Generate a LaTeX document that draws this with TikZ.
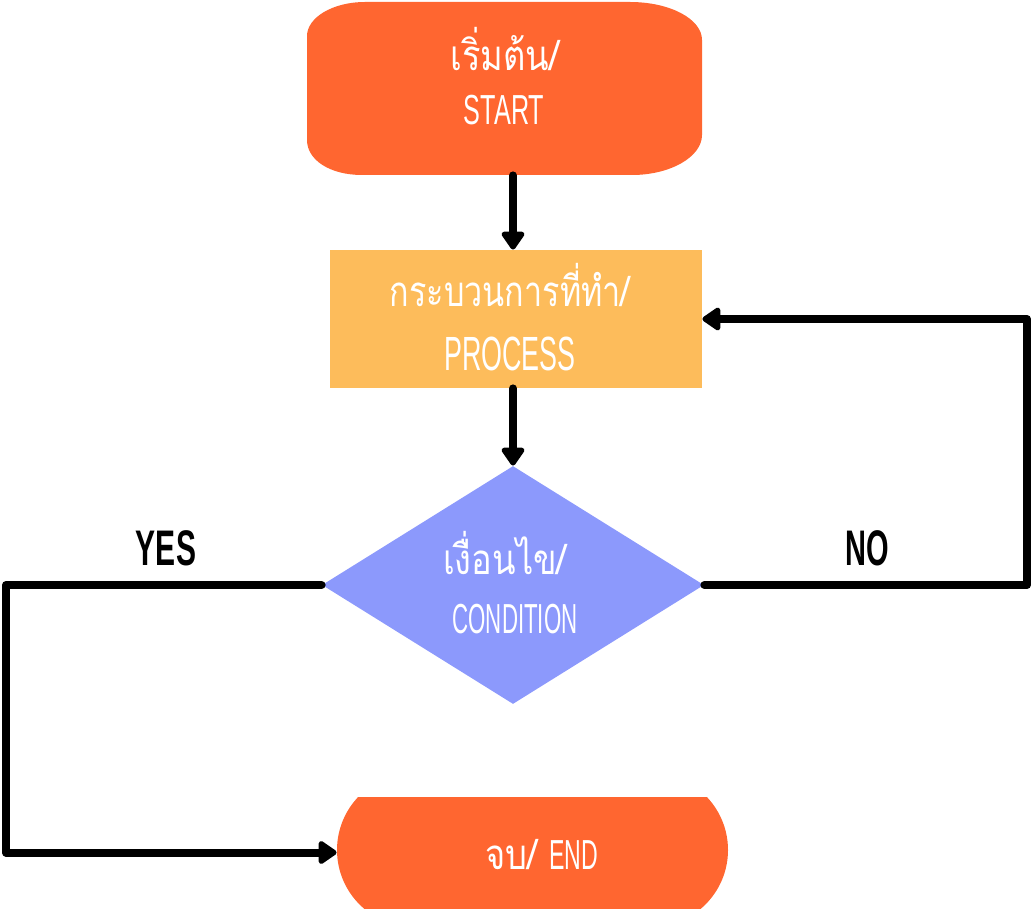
\documentclass[tikz,border=0pt]{standalone}
\usepackage{fontspec}
\usetikzlibrary{shapes.geometric,arrows.meta}
\newfontfamily\thai[Script=Thai]{Loma}
\newfontfamily\lat{Liberation Sans}
\newcommand\cnd[2]{\scalebox{#1}[1]{#2}}
\definecolor{orangeA}{HTML}{FF6630}
\definecolor{procC}{HTML}{FDBC5B}
\definecolor{condC}{HTML}{8C99FC}
\tikzset{
  lbl/.style={text=white, inner sep=0pt, anchor=base},
  arr/.style={line width=4pt, line cap=round, line join=round, -{Triangle[length=10pt,width=13pt,round]}},
  yn/.style={text=black, inner sep=0pt, anchor=base, font=\lat\bfseries\fontsize{25}{28}\selectfont}
}
\begin{document}
\begin{tikzpicture}[x=0.5pt,y=-0.5pt]
\useasboundingbox (0,0) rectangle (1032,909);
% start shape
\fill[orangeA] (307,36) .. controls (307,18) and (332,2) .. (365,2) -- (630,2)
  .. controls (670,2) and (702,19) .. (702,40) -- (702,135)
  .. controls (702,157) and (670,175) .. (632,175) -- (362,175)
  .. controls (330,175) and (307,160) .. (307,140) -- cycle;
\node[minimum width=197.5pt, minimum height=86.5pt, inner sep=0pt] (start) at (504.5,88.5) {};
% process
\node[fill=procC, minimum width=186pt, minimum height=69pt, inner sep=0pt] (proc) at (516,319) {};
% condition
\node[diamond, fill=condC, minimum width=191pt, minimum height=119pt, inner sep=0pt] (cond) at (513,585) {};
% end shape
\begin{scope}
\clip (300,797) rectangle (740,909);
\fill[orangeA] (414,850) circle[radius=77];
\fill[orangeA] (651,850) circle[radius=77];
\fill[orangeA] (414,773) rectangle (651,927);
\end{scope}
\node[minimum width=195.5pt, minimum height=55.5pt, inner sep=0pt] (end) at (532.5,852.5) {};
% texts
\node[lbl, font=\thai\fontsize{21}{24}\selectfont] (t1) at (505,71) {\cnd{0.82}{เริ่มต้น/}};
\node[lbl, font=\lat\fontsize{21}{24}\selectfont] (t2) at (504,125) {\cnd{0.6}{START}};
\node[lbl, font=\thai\fontsize{21}{24}\selectfont] (t3) at (510,306) {\cnd{0.77}{กระบวนการที่ทำ/}};
\node[lbl, font=\lat\fontsize{24}{28}\selectfont] (t4) at (510,370) {\cnd{0.56}{PROCESS}};
\node[lbl, font=\thai\fontsize{21}{24}\selectfont] (t5) at (505,574) {\cnd{0.82}{เงื่อนไข/}};
\node[lbl, font=\lat\fontsize{21}{24}\selectfont] (t6) at (515,633) {\cnd{0.53}{CONDITION}};
\node[lbl, font=\lat\fontsize{21}{24}\selectfont] (t7) at (542,869) {\cnd{0.82}{\thai จบ/} \cnd{0.55}{END}};
\node[yn] (yes) at (166,565) {\cnd{0.6}{YES}};
\node[yn] (no) at (867,565) {\cnd{0.58}{NO}};
% connectors
\coordinate (rx) at (1027,0);
\coordinate (lx) at (6,0);
\draw[arr] (start.south -| cond.north) -- (proc.north -| cond.north);
\draw[arr] (proc.south -| cond.north) -- (cond.north);
\draw[arr] (cond.east) -- (cond.east -| rx) |- (proc.east);
\draw[arr] (cond.west) -- (cond.west -| lx) |- (end.west);
\end{tikzpicture}
\end{document}
